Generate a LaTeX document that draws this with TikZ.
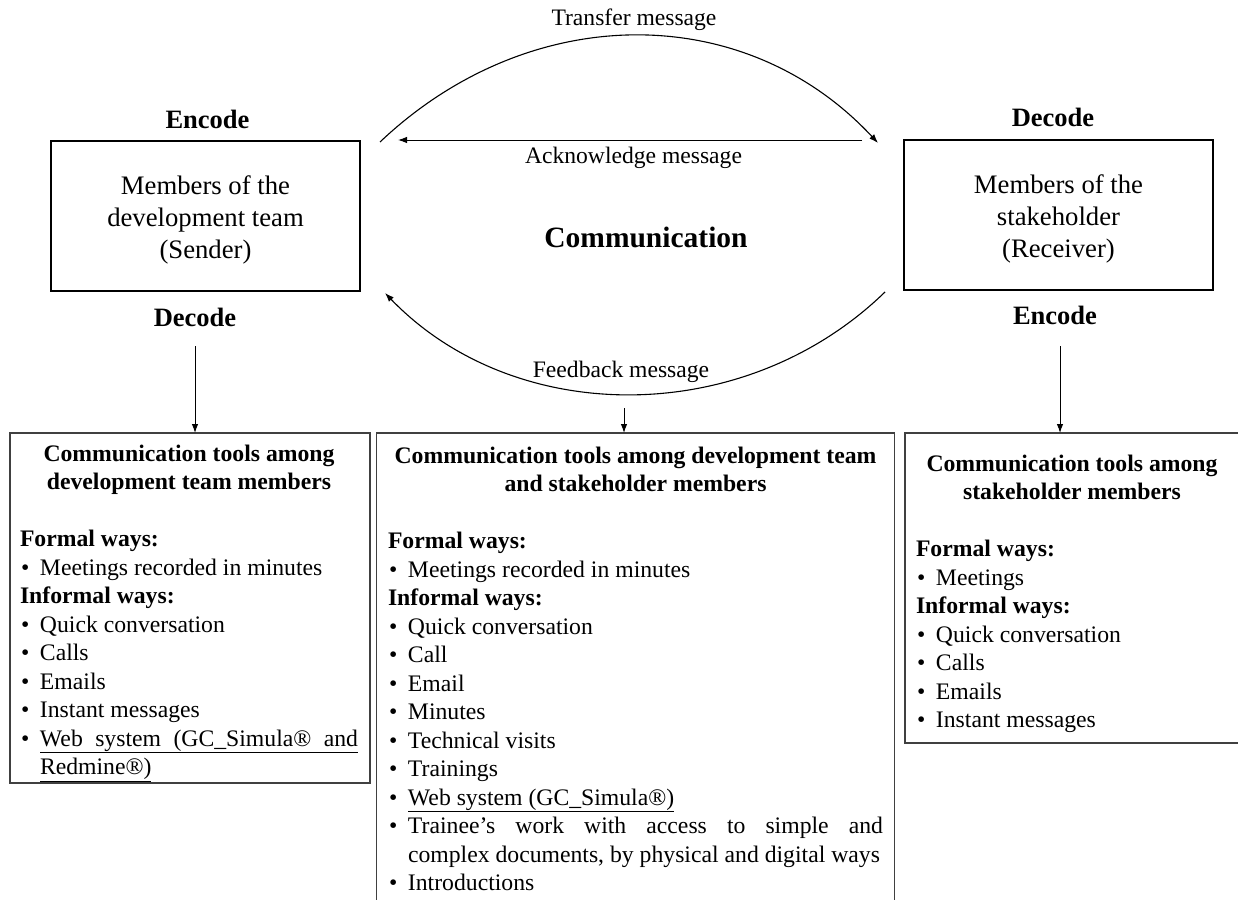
\documentclass[tikz,border=0pt]{standalone}
\usepackage{fontspec}
\setmainfont{Liberation Serif}
\usetikzlibrary{arrows.meta}
\newcommand{\bitem}[1]{\par\noindent\makebox[20pt][l]{\hspace{1pt}\textbullet}#1}
\newcommand{\bcont}[1]{\par\noindent\hspace{20pt}#1}
\newcommand{\listfont}{\fontsize{23.7pt}{28.5pt}\selectfont}
\begin{document}
\begin{tikzpicture}[x=1pt,y=-1pt,
  every node/.style={inner sep=0pt,outer sep=0pt},
  topbox/.style={draw,line width=2pt},
  boxtxt/.style={align=center,font=\fontsize{26.7pt}{32pt}\selectfont},
  lowbox/.style={draw=black!75,line width=1.4pt},
  lbl/.style={anchor=base,font=\fontsize{26.5pt}{32pt}\selectfont\bfseries},
  msg/.style={anchor=base,font=\fontsize{23.6pt}{28pt}\selectfont},
  arr/.style={line width=1pt,-{Latex[length=9pt,width=6.5pt]}},
  arc/.style={line width=1.1pt,-{Latex[length=9pt,width=6.5pt]}},
  listtxt/.style={anchor=base west}
]
\useasboundingbox (0,0) rectangle (1238,899);
\fill[white] (0,0) rectangle (1238,899);

% top boxes
\node[topbox,minimum width=309pt,minimum height=150pt] (snd) at (205.5,215.5) {};
\node[boxtxt] (sndtxt) at ([yshift=-4pt]snd.center) {Members of the\\development team\\(Sender)};
\node[topbox,minimum width=309pt,minimum height=150pt] (rcv) at (1058.5,215) {};
\node[boxtxt] (rcvtxt) at ([yshift=-4pt]rcv.center) {Members of the\\stakeholder\\(Receiver)};

\node[lbl] (encL) at (207.5,128) {Encode};
\node[lbl] (decL) at (195,326) {Decode};
\node[lbl] (decR) at (1053,126.5) {Decode};
\node[lbl] (encR) at (1055,324) {Encode};

\node[anchor=base,font=\fontsize{29.5pt}{34pt}\selectfont\bfseries] (comm) at (646,247) {Communication};

\node[msg] (tmsg) at (634,26) {Transfer message};
\node[msg] (amsg) at (633.5,163) {Acknowledge message};
\node[msg] (fmsg) at (621,377) {Feedback message};

% arcs
\coordinate (ta) at (380,142);
\coordinate (tb) at (878,143);
\draw[arc] (ta) .. controls (530,0) and (745,0) .. (tb);
\coordinate (ackR) at (862,140);
\coordinate (ackL) at (398,140);
\draw[arr] (ackR) -- (ackL);
\coordinate (ba) at (885,292);
\coordinate (bb) at (385,293);
\draw[arc] (ba) .. controls (745,428) and (515,428) .. (bb);

% lower boxes
\node[lowbox,minimum width=360pt,minimum height=350pt,anchor=north west] (lbox) at (10,433) {};
\node[minimum width=518pt,minimum height=470pt,anchor=north west] (mbox) at (376.5,433) {};
\draw[lowbox] (mbox.south west) -- (mbox.north west) -- (mbox.north east) -- (mbox.south east);
\node[minimum width=345pt,minimum height=310pt,anchor=north west] (rbox) at (905,433) {};
\draw[lowbox] (rbox.north east) -- (rbox.north west) -- (rbox.south west) -- (rbox.south east);

% down arrows
\coordinate (dl) at (195,346);
\draw[arr] (dl) -- (dl |- lbox.north);
\coordinate (dm) at (624,408);
\draw[arr] (dm) -- (dm |- mbox.north);
\coordinate (dr) at (1060,346);
\draw[arr] (dr) -- (dr |- rbox.north);

% list texts
\node[listtxt] (ltxt) at (20,461) {\begin{minipage}[t]{338pt}\listfont
{\centering\bfseries Communication tools among\\development team members\par}
\vspace{28.5pt}
\noindent\textbf{Formal ways:}
\bitem{Meetings recorded in minutes}
\par\noindent\textbf{Informal ways:}
\bitem{Quick conversation}
\bitem{Calls}
\bitem{Emails}
\bitem{Instant messages}
\bitem{\underline{\makebox[318pt][s]{Web system (GC\_Simula® and}}}
\bcont{\underline{Redmine®)}}
\end{minipage}};

\node[listtxt] (mtxt) at (388,463) {\begin{minipage}[t]{495pt}\listfont
{\centering\bfseries Communication tools among development team\\and stakeholder members\par}
\vspace{28.5pt}
\noindent\textbf{Formal ways:}
\bitem{Meetings recorded in minutes}
\par\noindent\textbf{Informal ways:}
\bitem{Quick conversation}
\bitem{Call}
\bitem{Email}
\bitem{Minutes}
\bitem{Technical visits}
\bitem{Trainings}
\bitem{\underline{Web system (GC\_Simula®)}}
\bitem{\makebox[475pt][s]{Trainee’s work with access to simple and}}
\bcont{complex documents, by physical and digital ways}
\bitem{Introductions}
\end{minipage}};

\node[listtxt] (rtxt) at (916,471) {\begin{minipage}[t]{312pt}\listfont
{\centering\bfseries Communication tools among\\stakeholder members\par}
\vspace{28.5pt}
\noindent\textbf{Formal ways:}
\bitem{Meetings}
\par\noindent\textbf{Informal ways:}
\bitem{Quick conversation}
\bitem{Calls}
\bitem{Emails}
\bitem{Instant messages}
\end{minipage}};
\end{tikzpicture}
\end{document}
